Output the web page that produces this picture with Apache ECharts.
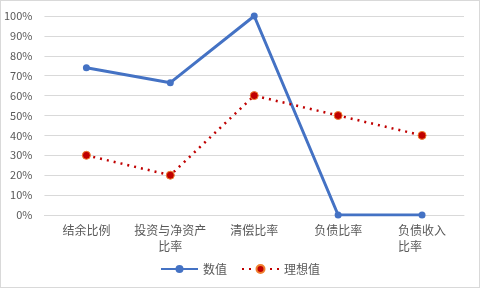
<!DOCTYPE html>
<html><head><meta charset="utf-8">
<script src="https://cdn.jsdelivr.net/npm/echarts@6/dist/echarts.min.js"></script>
<style>html,body{margin:0;padding:0;background:#fff}#c{width:480px;height:288px;box-sizing:border-box;border:1px solid #d9d9d9}</style>
</head><body><div id="c"></div>
<script>
const categories = ['结余比例', '投资与净资产\n比率', '清偿比率', '负债比率', '负债收入\n比率　　'];
const actualValues = [74, 66.5, 100, 0, 0];
const idealValues = [30, 20, 60, 50, 40];
const yTicks = [0, 10, 20, 30, 40, 50, 60, 70, 80, 90, 100];
const chart = echarts.init(document.getElementById('c'));
const font = '"Microsoft YaHei","Noto Sans CJK SC",sans-serif';
chart.setOption({
  animation: false,
  grid: {left: 43, right: 15, top: 15, bottom: 72, containLabel: false},
  legend: {
    bottom: 7, left: 'center', itemGap: 14, itemWidth: 37, itemHeight: 10,
    textStyle: {color: '#595959', fontSize: 12, fontFamily: font},
    data: ['数值', '理想值']
  },
  xAxis: {
    type: 'category', data: categories, boundaryGap: true,
    axisLine: {lineStyle: {color: '#d9d9d9'}}, axisTick: {show: false},
    axisLabel: {color: '#595959', fontSize: 12, fontFamily: font, margin: 7, interval: 0, lineHeight: 16}
  },
  yAxis: {
    type: 'value', min: 0, max: 100, interval: 10,
    axisLine: {show: false}, axisTick: {show: false},
    splitLine: {lineStyle: {color: '#d9d9d9'}},
    axisLabel: {color: '#595959', fontSize: 11, fontFamily: font, margin: 12, formatter: v => v + '%'}
  },
  series: [
    {name: '数值', type: 'line', data: actualValues, symbol: 'circle', symbolSize: 7,
     lineStyle: {color: '#4472c4', width: 3}, itemStyle: {color: '#4472c4'}},
    {name: '理想值', type: 'line', data: idealValues, symbol: 'circle', symbolSize: 8,
     lineStyle: {color: '#c00000', width: 2.5, type: [2, 5]},
     itemStyle: {color: '#c00000', borderColor: '#f08030', borderWidth: 1}}
  ]
});
</script></body></html>
